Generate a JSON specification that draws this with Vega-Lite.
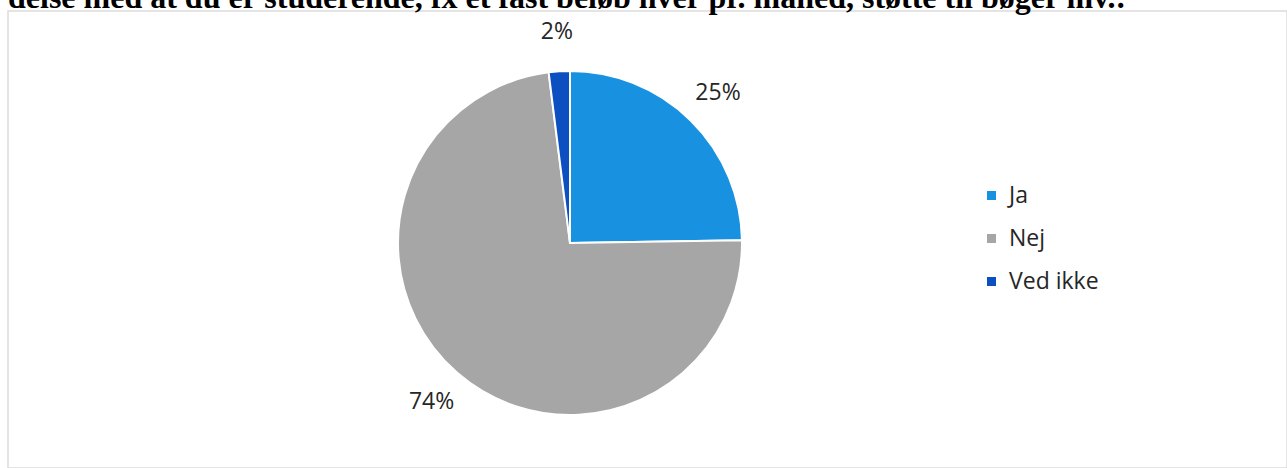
{
  "$schema": "https://vega.github.io/schema/vega-lite/v6.json",
  "autosize": {"type": "none"},
  "padding": {"left": 8, "top": 11, "right": 0, "bottom": 0},
  "width": 1279,
  "height": 457,
  "background": "white",
  "title": {
    "text": "delse med at du er studerende, fx et fast beløb hver pr. måned, støtte til bøger mv.:",
    "anchor": "start",
    "frame": "group",
    "font": "Liberation Serif",
    "fontSize": 32,
    "fontWeight": "bold",
    "color": "#000000",
    "baseline": "alphabetic",
    "offset": 0,
    "dy": 29
  },
  "data": {
    "values": [
      {"answer": "Ja", "share": 0.25},
      {"answer": "Nej", "share": 0.74},
      {"answer": "Ved ikke", "share": 0.02}
    ]
  },
  "encoding": {
    "theta": {"field": "share", "type": "quantitative", "stack": true},
    "x": {"datum": 0.4394, "type": "quantitative", "scale": {"domain": [0, 1]}, "axis": null},
    "y": {"datum": 0.4923, "type": "quantitative", "scale": {"domain": [0, 1]}, "axis": null}
  },
  "layer": [
    {
      "mark": {"type": "arc", "outerRadius": 172, "stroke": "white", "strokeWidth": 2},
      "encoding": {
        "color": {
          "field": "answer",
          "type": "nominal",
          "scale": {"domain": ["Ja", "Nej", "Ved ikke"], "range": ["#1791E0", "#A6A6A6", "#0B4FC1"]},
          "legend": {
            "orient": "none",
            "legendX": 972,
            "legendY": 173,
            "title": null,
            "symbolType": "square",
            "symbolSize": 81,
            "symbolStrokeWidth": 0,
            "labelFont": "Open Sans",
            "labelFontSize": 23,
            "labelColor": "#262626",
            "labelOffset": 6,
            "rowPadding": 19
          }
        }
      }
    },
    {
      "mark": {"type": "text", "radius": 211, "font": "Open Sans", "fontSize": 23},
      "encoding": {
        "text": {"field": "share", "type": "quantitative", "format": ".0%"},
        "color": {
          "field": "answer",
          "type": "nominal",
          "scale": {"domain": ["Ja", "Nej", "Ved ikke"], "range": ["#262626", "#262626", "#262626"]},
          "legend": null
        }
      }
    }
  ],
  "resolve": {"scale": {"color": "independent"}},
  "config": {"view": {"stroke": "#dcdcdc", "strokeWidth": 1.5}}
}
